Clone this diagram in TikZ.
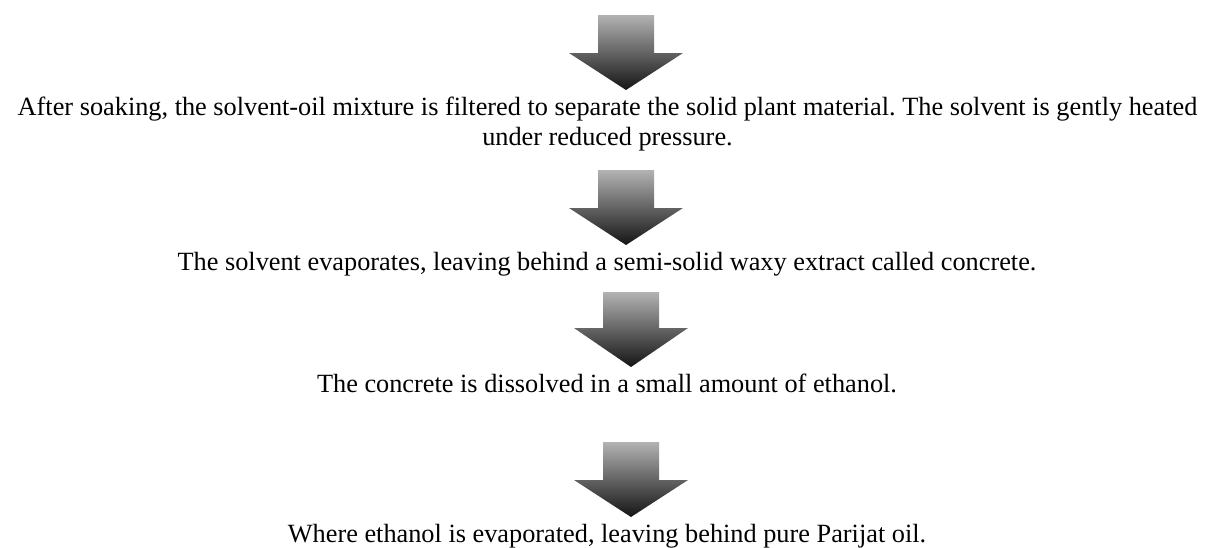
\documentclass[tikz,border=0pt]{standalone}
\usepackage{fontspec}
\setmainfont{Liberation Serif}
\begin{document}
\frenchspacing
\begin{tikzpicture}[x=1pt,y=-1pt,
  txt/.style={anchor=base,inner sep=0pt,font=\fontsize{26.3}{31}\selectfont},
  downarrow/.style={top color=black!30,bottom color=black!92}]
\useasboundingbox (0,0) rectangle (1207,547);
\newcommand{\flowarrow}[4]{% center x, top, head start, tip
  \shade[downarrow] (#1-28,#2) -- (#1+28,#2) -- (#1+28,#3) -- (#1+57,#3) -- (#1,#4) -- (#1-57,#3) -- (#1-28,#3) -- cycle;}
\flowarrow{626}{15}{53}{90}
\node[txt] (t1a) at (607.5,115) {After soaking, the solvent-oil mixture is filtered to separate the solid plant material. The solvent is gently heated};
\node[txt] (t1b) at (607.5,145) {under reduced pressure.};
\flowarrow{626}{170}{208}{245}
\node[txt] (t2) at (607,270) {The solvent evaporates, leaving behind a semi-solid waxy extract called concrete.};
\flowarrow{631}{292}{328}{367}
\node[txt] (t3) at (607,392) {The concrete is dissolved in a small amount of ethanol.};
\flowarrow{631}{442}{480}{517}
\node[txt] (t4) at (607,542) {Where ethanol is evaporated, leaving behind pure Parijat oil.};
\end{tikzpicture}
\end{document}
